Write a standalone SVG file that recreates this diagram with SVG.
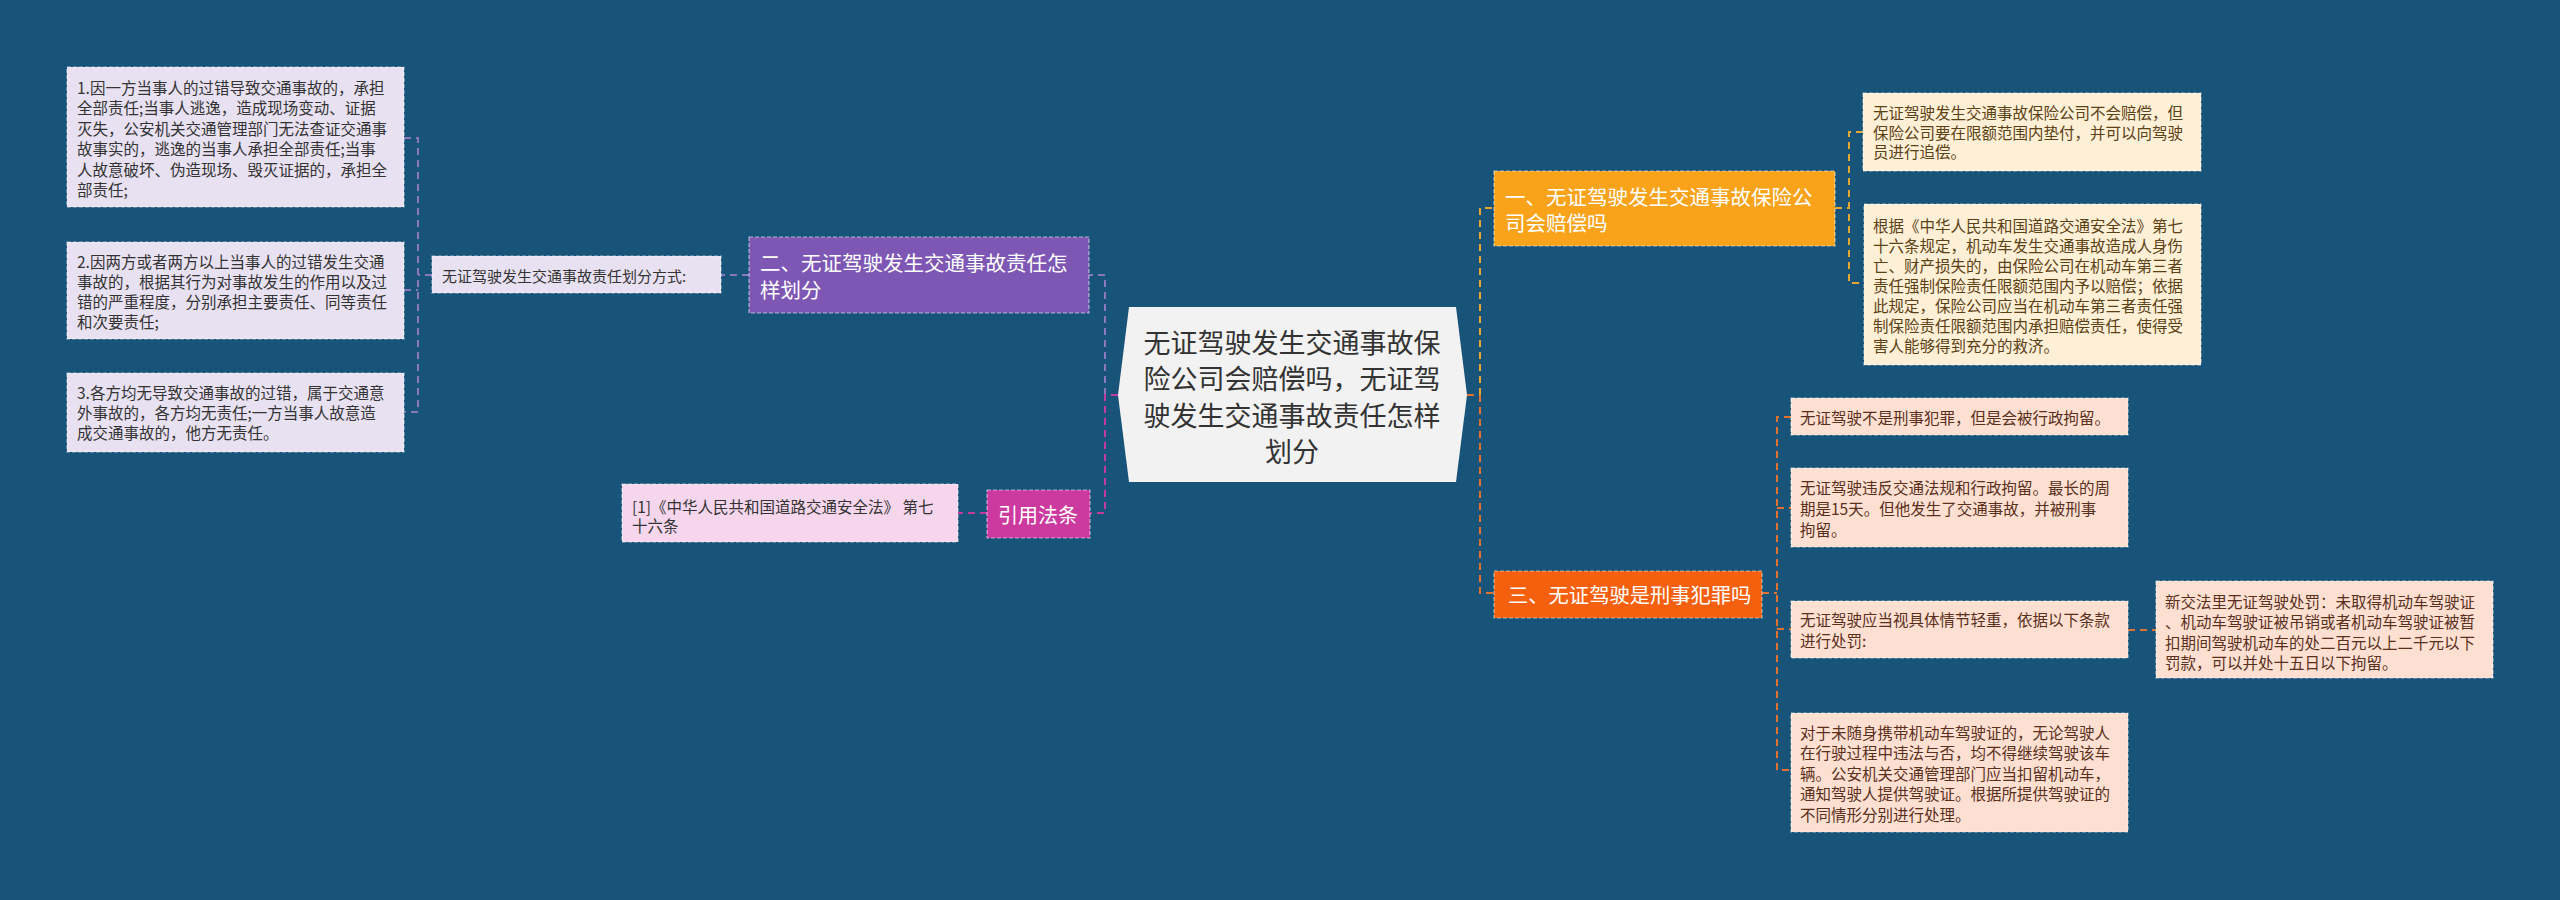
<svg xmlns="http://www.w3.org/2000/svg" width="2560" height="900" viewBox="0 0 2560 900">
<style>
text{font-family:"Noto Sans CJK SC","Noto Sans",sans-serif;}
.leaf{font-size:15.5px;}
.c{fill:none;stroke-width:2;stroke-dasharray:7,5;}
.cp{stroke:#8a78bf;}
.cm{stroke:#c23c9e;}
.cy{stroke:#e6a531;}
.cr{stroke:#e0722e;}
.bd{stroke:#ffffff;stroke-opacity:0.55;stroke-width:1.2;stroke-dasharray:4,2;}
</style>
<rect width="2560" height="900" fill="#185479"/>
<g id="connectors">
<path class="c cp" d="M1105,395 V275 H1089"/>
<path class="c cp" d="M749,275 H721"/>
<path class="c cp" d="M432,275 H418"/>
<path class="c cp" d="M404,138 H418 V412 H404 M404,290 H418"/>
<path class="c cm" d="M1118,395 H1105 V513 H1090"/>
<path class="c cm" d="M987,513 H958"/>
<path class="c cr" d="M1467,395 H1480"/>
<path class="c cy" d="M1480,395 V208 H1494"/>
<path class="c cr" d="M1480,395 V593 H1494"/>
<path class="c cy" d="M1835,208 H1849 M1863,132 H1849 V283 H1863"/>
<path class="c cr" d="M1762,593 H1777 M1791,417 H1777 V770 H1791 M1777,508 H1791 M1777,629 H1791"/>
<path class="c cr" d="M2128,630 H2156"/>
</g>
<g id="center">
<polygon points="1129,307 1456,307 1467,395 1456,482 1129,482 1118,395" fill="#f2f2f2"/>
<text font-size="27" fill="#333" text-anchor="middle"><tspan x="1292" y="353">无证驾驶发生交通事故保</tspan><tspan x="1292" y="389">险公司会赔偿吗，无证驾</tspan><tspan x="1292" y="426">驶发生交通事故责任怎样</tspan><tspan x="1292" y="462">划分</tspan></text>
</g>
<g id="n-purple">
<rect x="749" y="237" width="340" height="76" fill="#7e57b4" class="bd"/>
<text font-size="20.5" fill="#ffffff"><tspan x="760" y="270.5">二、无证驾驶发生交通事故责任怎</tspan><tspan x="760" y="297.5">样划分</tspan></text>
</g>
<g id="n-fangshi">
<rect x="432" y="256" width="289" height="37" fill="#e8e1f1" class="bd"/>
<text font-size="15" fill="#333"><tspan x="442" y="282">无证驾驶发生交通事故责任划分方式:</tspan></text>
</g>
<g id="n-left1">
<rect x="67" y="67" width="337" height="140" fill="#e8e1f1" class="bd"/>
<text class="leaf" fill="#333"><tspan x="77" y="93.5">1.因一方当事人的过错导致交通事故的，承担</tspan><tspan x="77" y="114">全部责任;当事人逃逸，造成现场变动、证据</tspan><tspan x="77" y="134.5">灭失，公安机关交通管理部门无法查证交通事</tspan><tspan x="77" y="155">故事实的，逃逸的当事人承担全部责任;当事</tspan><tspan x="77" y="175.5">人故意破坏、伪造现场、毁灭证据的，承担全</tspan><tspan x="77" y="196">部责任;</tspan></text>
</g>
<g id="n-left2">
<rect x="67" y="242" width="337" height="97" fill="#e8e1f1" class="bd"/>
<text class="leaf" fill="#333"><tspan x="77" y="267.5">2.因两方或者两方以上当事人的过错发生交通</tspan><tspan x="77" y="287.5">事故的，根据其行为对事故发生的作用以及过</tspan><tspan x="77" y="307.5">错的严重程度，分别承担主要责任、同等责任</tspan><tspan x="77" y="327.5">和次要责任;</tspan></text>
</g>
<g id="n-left3">
<rect x="67" y="373" width="337" height="79" fill="#e8e1f1" class="bd"/>
<text class="leaf" fill="#333"><tspan x="77" y="398.5">3.各方均无导致交通事故的过错，属于交通意</tspan><tspan x="77" y="418.5">外事故的，各方均无责任;一方当事人故意造</tspan><tspan x="77" y="438.5">成交通事故的，他方无责任。</tspan></text>
</g>
<g id="n-cite">
<rect x="987" y="490" width="103" height="48" fill="#cc3aa0" class="bd"/>
<text font-size="20" fill="#ffffff"><tspan x="998" y="522.5">引用法条</tspan></text>
</g>
<g id="n-law">
<rect x="622" y="484" width="336" height="58" fill="#f5d6ec" class="bd"/>
<text class="leaf" fill="#333" font-size="15.3"><tspan x="632" y="512.5">[1]《中华人民共和国道路交通安全法》 第七</tspan><tspan x="632" y="532">十六条</tspan></text>
</g>
<g id="n-orange">
<rect x="1494" y="171" width="341" height="75" fill="#f9a31b" class="bd"/>
<text font-size="20.5" fill="#ffffff"><tspan x="1505" y="204.5">一、无证驾驶发生交通事故保险公</tspan><tspan x="1505" y="231">司会赔偿吗</tspan></text>
</g>
<g id="n-o1">
<rect x="1863" y="93" width="338" height="78" fill="#fdf0d6" class="bd"/>
<text class="leaf" fill="#5c4115"><tspan x="1873" y="118.5">无证驾驶发生交通事故保险公司不会赔偿，但</tspan><tspan x="1873" y="138.5">保险公司要在限额范围内垫付，并可以向驾驶</tspan><tspan x="1873" y="158">员进行追偿。</tspan></text>
</g>
<g id="n-o2">
<rect x="1864" y="204" width="337" height="161" fill="#fdf0d6" class="bd"/>
<text class="leaf" fill="#5c4115"><tspan x="1873" y="231.5">根据《中华人民共和国道路交通安全法》第七</tspan><tspan x="1873" y="251.5">十六条规定，机动车发生交通事故造成人身伤</tspan><tspan x="1873" y="271.5">亡、财产损失的，由保险公司在机动车第三者</tspan><tspan x="1873" y="291.5">责任强制保险责任限额范围内予以赔偿；依据</tspan><tspan x="1873" y="311.5">此规定，保险公司应当在机动车第三者责任强</tspan><tspan x="1873" y="331.5">制保险责任限额范围内承担赔偿责任，使得受</tspan><tspan x="1873" y="351.5">害人能够得到充分的救济。</tspan></text>
</g>
<g id="n-red">
<rect x="1494" y="571" width="268" height="47" fill="#f5600f" class="bd"/>
<text font-size="20.3" fill="#ffffff"><tspan x="1508" y="602.5">三、无证驾驶是刑事犯罪吗</tspan></text>
</g>
<g id="n-r1">
<rect x="1791" y="398" width="337" height="37" fill="#fde0d1" class="bd"/>
<text class="leaf" fill="#5a2f1c"><tspan x="1800" y="423.5">无证驾驶不是刑事犯罪，但是会被行政拘留。</tspan></text>
</g>
<g id="n-r2">
<rect x="1791" y="468" width="337" height="79" fill="#fde0d1" class="bd"/>
<text class="leaf" fill="#5a2f1c"><tspan x="1800" y="493.5">无证驾驶违反交通法规和行政拘留。最长的周</tspan><tspan x="1800" y="514.5">期是15天。但他发生了交通事故，并被刑事</tspan><tspan x="1800" y="535.5">拘留。</tspan></text>
</g>
<g id="n-r3">
<rect x="1791" y="601" width="337" height="57" fill="#fde0d1" class="bd"/>
<text class="leaf" fill="#5a2f1c"><tspan x="1800" y="625.5">无证驾驶应当视具体情节轻重，依据以下条款</tspan><tspan x="1800" y="646.5">进行处罚:</tspan></text>
</g>
<g id="n-r3a">
<rect x="2156" y="581" width="337" height="97" fill="#fde0d1" class="bd"/>
<text class="leaf" fill="#5a2f1c"><tspan x="2165" y="607.5">新交法里无证驾驶处罚：未取得机动车驾驶证</tspan><tspan x="2165" y="628">、机动车驾驶证被吊销或者机动车驾驶证被暂</tspan><tspan x="2165" y="648.5">扣期间驾驶机动车的处二百元以上二千元以下</tspan><tspan x="2165" y="669">罚款，可以并处十五日以下拘留。</tspan></text>
</g>
<g id="n-r4">
<rect x="1791" y="713" width="337" height="119" fill="#fde0d1" class="bd"/>
<text class="leaf" fill="#5a2f1c"><tspan x="1800" y="738.5">对于未随身携带机动车驾驶证的，无论驾驶人</tspan><tspan x="1800" y="759">在行驶过程中违法与否，均不得继续驾驶该车</tspan><tspan x="1800" y="779.5">辆。公安机关交通管理部门应当扣留机动车，</tspan><tspan x="1800" y="800">通知驾驶人提供驾驶证。根据所提供驾驶证的</tspan><tspan x="1800" y="820.5">不同情形分别进行处理。</tspan></text>
</g>
</svg>
